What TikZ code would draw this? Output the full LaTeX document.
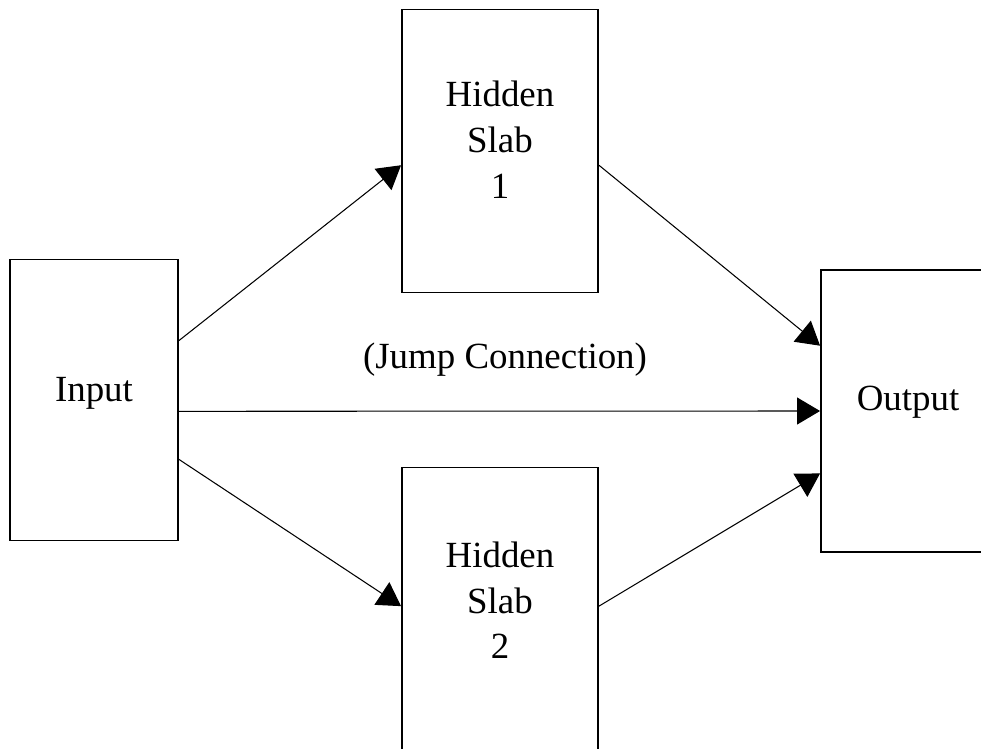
\documentclass[tikz,border=0pt]{standalone}
\usepackage{fontspec}
\setmainfont{Liberation Serif}
\usetikzlibrary{calc,arrows.meta}

\begin{document}
\begin{tikzpicture}[x=0.02cm,y=-0.02cm,
  slab/.style={draw,line width=1.1pt,align=center,minimum width=3.92cm,minimum height=5.66cm,font=\fontsize{21}{26}\selectfont},
  conn/.style={line width=0.6pt,-{Triangle[length=0.46cm,width=0.54cm]}}]
\useasboundingbox(0,0)rectangle(981,749);\clip(0,0)rectangle(981,749);
\node[slab,text depth=13pt]at(500,151)(hid1){Hidden\\Slab\\1};
\node[slab,text depth=10pt]at(500,609)(hid2){Hidden\\Slab\\2};
\node[slab,minimum width=3.36cm,minimum height=5.62cm,text depth=12pt]at(94,400)(inp){Input};
\node[slab,minimum width=3.48cm,minimum height=5.64cm,text depth=15pt]at(908,411)(out){Output};
\node[font=\fontsize{21}{26}\selectfont]at(505,360)(jump){(Jump Connection)};
\draw[conn]($(inp.north east)!0.29!(inp.south east)$)--($(hid1.north west)!0.55!(hid1.south west)$);
\draw[conn]($(inp.north east)!0.71!(inp.south east)$)--($(hid2.north west)!0.49!(hid2.south west)$);
\draw[conn]($(inp.north east)!0.54!(inp.south east)$)--($(out.north west)!0.5!(out.south west)$);
\draw[conn]($(hid1.north east)!0.55!(hid1.south east)$)--($(out.north west)!0.27!(out.south west)$);
\draw[conn]($(hid2.north east)!0.49!(hid2.south east)$)--($(out.north west)!0.72!(out.south west)$);
\end{tikzpicture}
\end{document}
